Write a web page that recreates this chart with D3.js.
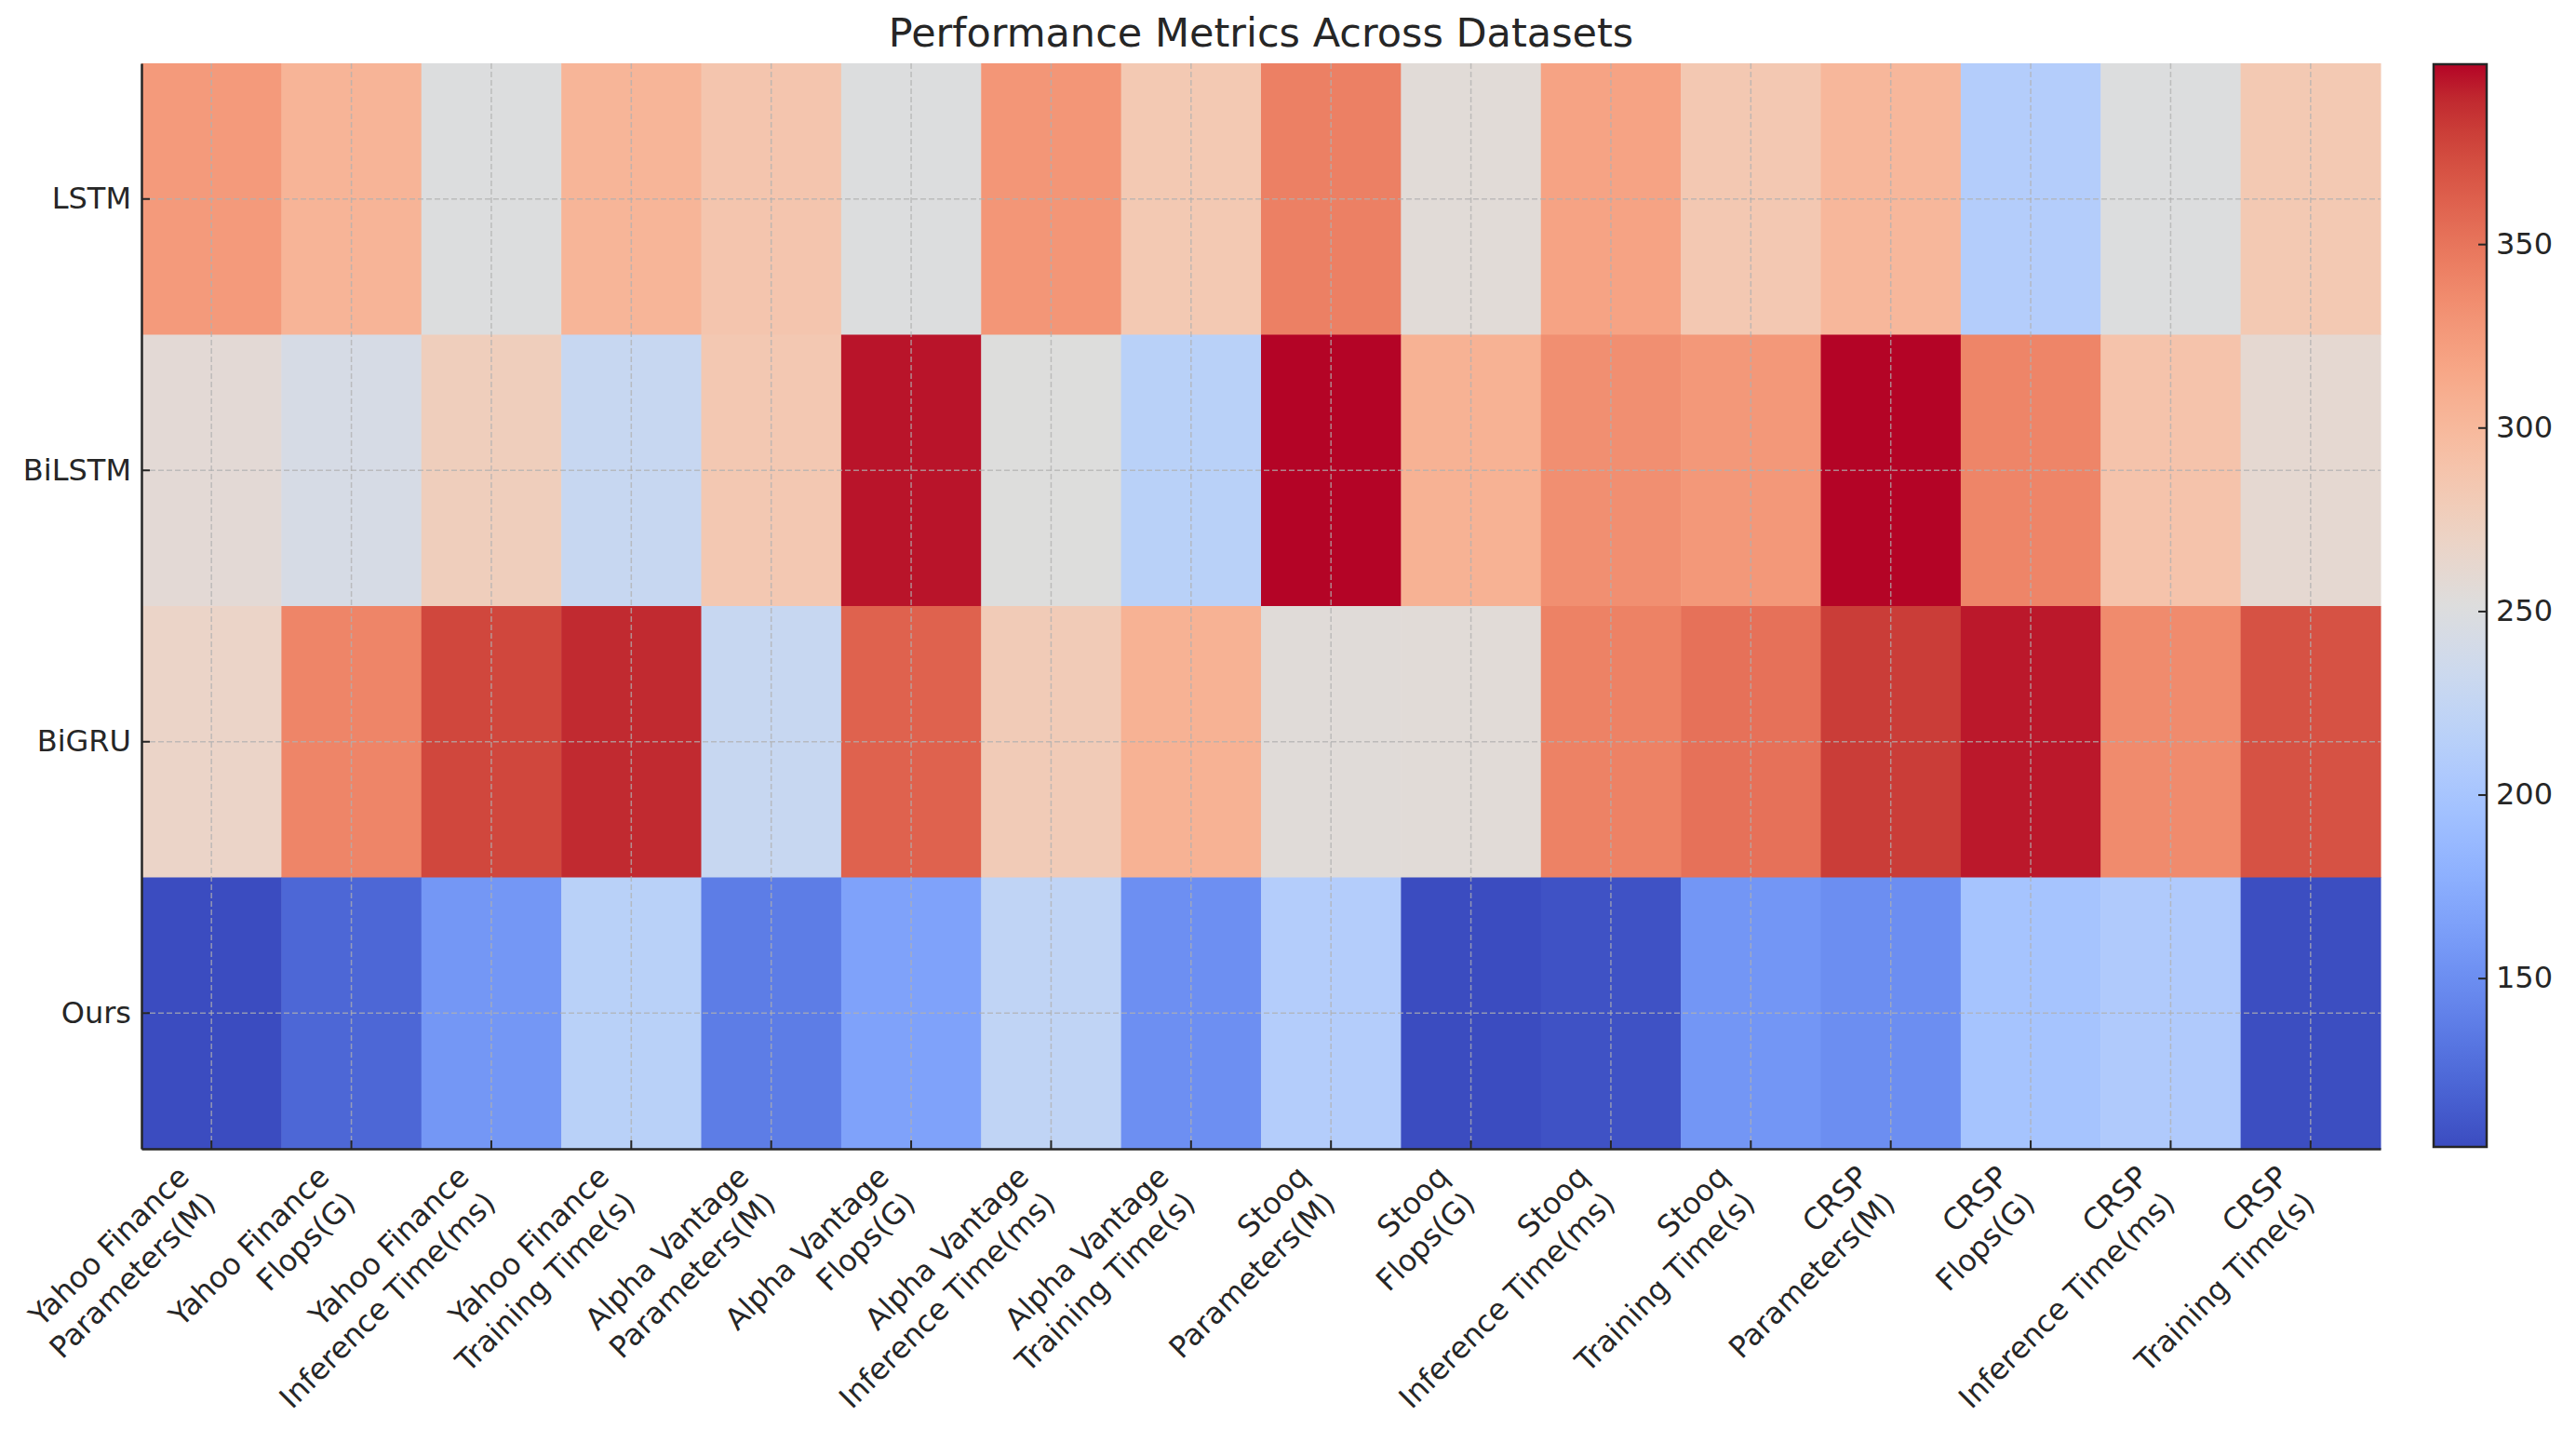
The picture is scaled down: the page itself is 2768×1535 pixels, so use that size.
<!DOCTYPE html>
<html>
<head>
<meta charset="utf-8">
<script src="https://cdn.jsdelivr.net/npm/d3@7/dist/d3.min.js"></script>
<style>
  body {
    margin: 0;
    background: #ffffff;
  }
  text {
    font-family: 'DejaVu Sans', sans-serif;
    fill: #262626;
  }
  .title {
    font-size: 43px;
    text-anchor: middle;
  }
  .axis text {
    font-size: 32px;
  }
  .axis path {
    stroke: #262626;
    stroke-width: 2.5px;
  }
  .axis line {
    stroke: #262626;
    stroke-width: 2px;
  }
  .grid line {
    stroke: #b0b0b0;
    stroke-opacity: 0.75;
    stroke-width: 1.5px;
    stroke-dasharray: 6, 3;
  }
</style>
</head>
<body>
<svg id="SVG" width="2768" height="1535"></svg>
<script>
// data
const models = ['LSTM', 'BiLSTM', 'BiGRU', 'Ours'];
const datasets = ['Yahoo Finance', 'Alpha Vantage', 'Stooq', 'CRSP'];
const metrics = ['Parameters(M)', 'Flops(G)', 'Inference Time(ms)', 'Training Time(s)'];

const lstmValues = [325, 304, 250, 303, 287, 250, 328, 283, 343, 256, 318, 284, 301, 211, 250, 283];
const bilstmValues = [258, 243, 276, 228, 284, 395, 252, 216, 399, 306, 333, 327, 399, 340, 289, 261];
const bigruValues = [268, 340, 376, 389, 228, 361, 280, 306, 255, 256, 342, 352, 381, 394, 336, 370];
const oursValues = [104, 122, 157, 216, 137, 166, 222, 151, 211, 104, 108, 156, 150, 199, 207, 105];

const colorbarTicks = [150, 200, 250, 300, 350];

// matplotlib coolwarm control colours
const coolwarm = [
  '#3b4cc0', '#445acc', '#4d68d7', '#5775e1', '#6282ea', '#6c8ef1', '#779af7', '#82a5fb',
  '#8db0fe', '#98b9ff', '#a3c2ff', '#aec9fd', '#b8d0f9', '#c2d5f4', '#ccd9ee', '#d5dbe6',
  '#dddddd', '#e5d8d1', '#ecd3c5', '#f1ccb8', '#f5c4ac', '#f7bb9f', '#f7b193', '#f7a686',
  '#f49a7b', '#f18d6f', '#ec7f63', '#e57058', '#de604d', '#d55042', '#cb3e38', '#c0282f',
  '#b40426',
];

const columns = [];
datasets.forEach(function (ds) {
  metrics.forEach(function (m) {
    columns.push(ds + '\n' + m);
  });
});

const rows = [lstmValues, bilstmValues, bigruValues, oursValues];
const cells = [];
rows.forEach(function (vals, r) {
  vals.forEach(function (v, c) {
    cells.push({ model: models[r], column: columns[c], value: v });
  });
});

const svg = d3.select('#SVG');
const margin = { top: 68, left: 152, right: 210, bottom: 301 };
const width = +svg.attr('width') - margin.left - margin.right;
const height = +svg.attr('height') - margin.top - margin.bottom;

const x = d3.scaleBand().domain(columns).range([0, width]);
const y = d3.scaleBand().domain(models).range([0, height]);

const vmin = d3.min(cells, function (d) { return d.value; });
const vmax = d3.max(cells, function (d) { return d.value; });
const color = d3
  .scaleLinear()
  .domain(coolwarm.map(function (c, i) { return vmin + (i / (coolwarm.length - 1)) * (vmax - vmin); }))
  .range(coolwarm)
  .interpolate(d3.interpolateRgb);

const g = svg
  .append('g')
  .attr('transform', 'translate(' + margin.left + ',' + margin.top + ')');

// cells
g.append('g')
  .selectAll('rect')
  .data(cells)
  .enter()
  .append('rect')
  .attr('x', function (d) { return x(d.column); })
  .attr('y', function (d) { return y(d.model); })
  .attr('width', x.bandwidth() + 0.5)
  .attr('height', y.bandwidth() + 0.5)
  .attr('fill', function (d) { return color(d.value); });

// dashed grid over the cells
const grid = g.append('g').attr('class', 'grid');
grid
  .selectAll('.vgrid')
  .data(columns)
  .enter()
  .append('line')
  .attr('x1', function (d) { return x(d) + x.bandwidth() / 2; })
  .attr('x2', function (d) { return x(d) + x.bandwidth() / 2; })
  .attr('y1', 0)
  .attr('y2', height);
grid
  .selectAll('.hgrid')
  .data(models)
  .enter()
  .append('line')
  .attr('y1', function (d) { return y(d) + y.bandwidth() / 2; })
  .attr('y2', function (d) { return y(d) + y.bandwidth() / 2; })
  .attr('x1', 0)
  .attr('x2', width);

// y axis, ticks point inward
g.append('g')
  .attr('class', 'axis')
  .call(d3.axisLeft(y).tickSizeInner(-9).tickSizeOuter(0).tickPadding(11));

// x axis, labels done by hand (two lines, rotated)
const xAxis = g
  .append('g')
  .attr('class', 'axis')
  .attr('transform', 'translate(0,' + height + ')')
  .call(d3.axisBottom(x).tickSizeInner(-9).tickSizeOuter(0).tickFormat(''));

xAxis.selectAll('.tick text').remove();

const lineGap = 40;
const xLabels = xAxis
  .append('g')
  .selectAll('text')
  .data(columns)
  .enter()
  .append('text')
  .attr('text-anchor', 'end')
  .attr('transform', function (d) {
    const tx = x(d) + x.bandwidth() / 2 - 22;
    return 'translate(' + tx + ',32) rotate(-45)';
  });

xLabels
  .selectAll('tspan')
  .data(function (d) { return d.split('\n'); })
  .enter()
  .append('tspan')
  .attr('x', 0)
  .attr('y', function (d, i) { return i * lineGap; })
  .text(function (d) { return d; });

// title
svg
  .append('text')
  .attr('class', 'title')
  .attr('x', margin.left + width / 2)
  .attr('y', 50)
  .text('Performance Metrics Across Datasets');

// colorbar
const cbX = 2615;
const cbW = 57;
const cbScale = d3.scaleLinear().domain([vmin, vmax]).range([margin.top + height - 2, margin.top + 1]);

const grad = svg
  .append('defs')
  .append('linearGradient')
  .attr('id', 'cbGrad')
  .attr('x1', 0)
  .attr('y1', 1)
  .attr('x2', 0)
  .attr('y2', 0);
grad
  .selectAll('stop')
  .data(coolwarm)
  .enter()
  .append('stop')
  .attr('offset', function (d, i) { return i / (coolwarm.length - 1); })
  .attr('stop-color', function (d) { return d; });

svg
  .append('rect')
  .attr('x', cbX)
  .attr('y', cbScale(vmax))
  .attr('width', cbW)
  .attr('height', cbScale(vmin) - cbScale(vmax))
  .attr('fill', 'url(#cbGrad)')
  .attr('stroke', '#262626')
  .attr('stroke-width', 2.5);

const cbAxis = svg
  .append('g')
  .attr('class', 'axis')
  .attr('transform', 'translate(' + (cbX + cbW) + ',0)')
  .call(d3.axisRight(cbScale).tickValues(colorbarTicks).tickSizeInner(-9).tickSizeOuter(0).tickPadding(10));
cbAxis.select('.domain').remove();
</script>
</body>
</html>
